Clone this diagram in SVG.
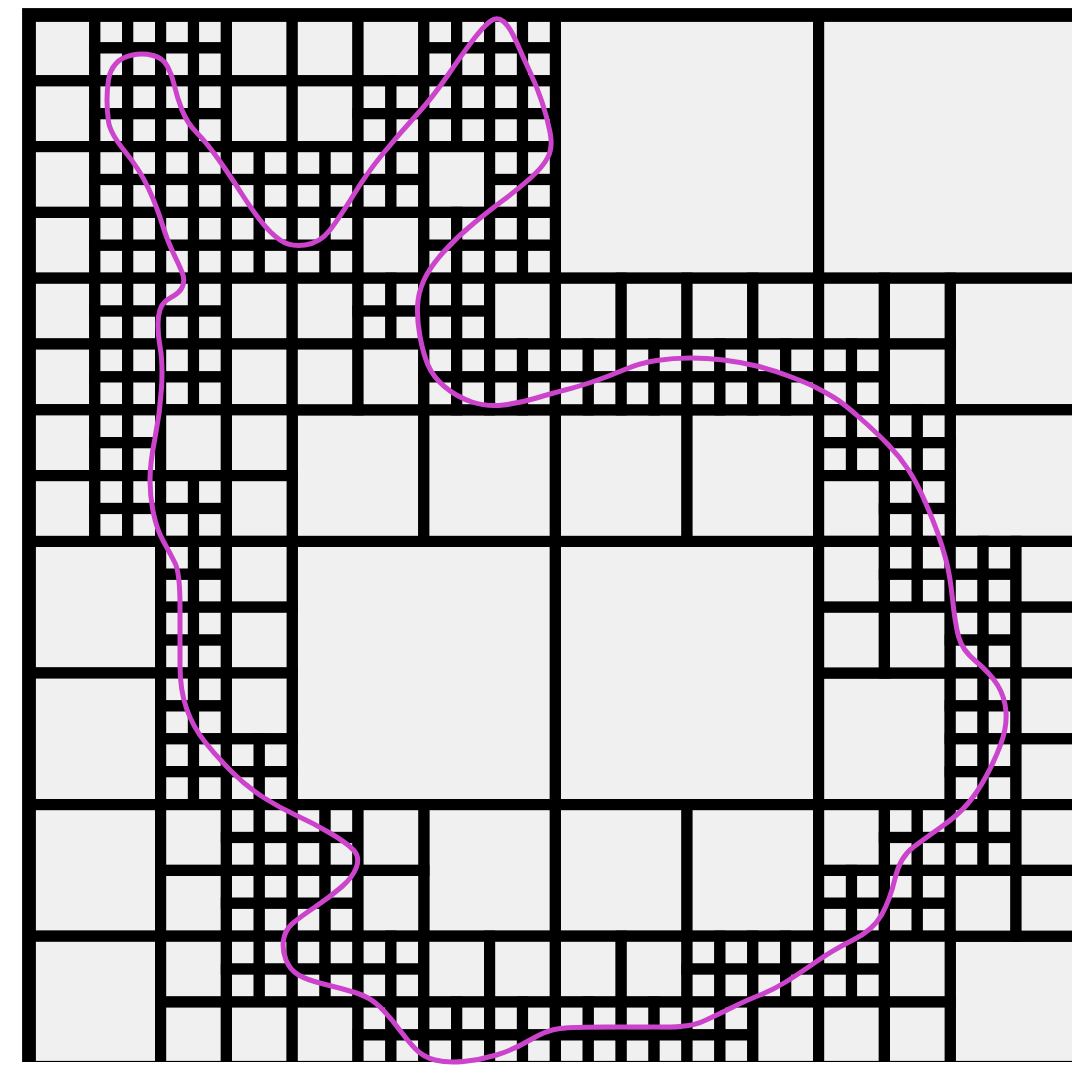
<svg xmlns="http://www.w3.org/2000/svg" width="1072" height="1066" viewBox="0 0 1072 1066">
<style>
.curve{fill:none;stroke:#cc44cc;stroke-width:5;stroke-linejoin:round;stroke-linecap:round}
</style>
<defs>
<g id="s">
<rect x="0" y="0" width="1" height="1"/><rect x="1" y="0" width="1" height="1"/>
<rect x="0" y="1" width="1" height="1"/><rect x="1" y="1" width="1" height="1"/>
</g>
<rect id="l" width="2" height="2"/>
<clipPath id="crop"><rect x="0" y="0" width="1072" height="1062"/></clipPath>
</defs>
<rect width="1072" height="1066" fill="#ffffff"/>
<g clip-path="url(#crop)">
<g id="quadtree" transform="translate(29,15) scale(32.9)" fill="#f0f0f0" stroke="#000" stroke-width="0.34">
<g id="level2">
<rect x="16" y="0" width="8" height="8"/><rect x="24" y="0" width="8" height="8"/>
<rect x="8" y="16" width="8" height="8"/><rect x="16" y="16" width="8" height="8"/>
</g>
<g id="level3">
<rect x="28" y="8" width="4" height="4"/>
<rect x="8" y="12" width="4" height="4"/><rect x="12" y="12" width="4" height="4"/><rect x="16" y="12" width="4" height="4"/><rect x="20" y="12" width="4" height="4"/><rect x="28" y="12" width="4" height="4"/>
<rect x="0" y="16" width="4" height="4"/>
<rect x="0" y="20" width="4" height="4"/><rect x="24" y="20" width="4" height="4"/>
<rect x="0" y="24" width="4" height="4"/><rect x="12" y="24" width="4" height="4"/><rect x="16" y="24" width="4" height="4"/><rect x="20" y="24" width="4" height="4"/>
<rect x="0" y="28" width="4" height="4"/><rect x="28" y="28" width="4" height="4"/>
</g>
<g id="row0">
<use href="#l" x="0" y="0"/><use href="#s" x="2" y="0"/><use href="#l" x="0" y="2"/><use href="#s" x="2" y="2"/>
<use href="#s" x="4" y="0"/><use href="#l" x="6" y="0"/><use href="#s" x="4" y="2"/><use href="#l" x="6" y="2"/>
<use href="#l" x="8" y="0"/><use href="#l" x="10" y="0"/><use href="#l" x="8" y="2"/><use href="#s" x="10" y="2"/>
<use href="#s" x="12" y="0"/><use href="#s" x="14" y="0"/><use href="#s" x="12" y="2"/><use href="#s" x="14" y="2"/>
</g>
<g id="row1">
<use href="#l" x="0" y="4"/><use href="#s" x="2" y="4"/><use href="#l" x="0" y="6"/><use href="#s" x="2" y="6"/>
<use href="#s" x="4" y="4"/><use href="#s" x="6" y="4"/><use href="#s" x="4" y="6"/><use href="#s" x="6" y="6"/>
<use href="#s" x="8" y="4"/><use href="#s" x="10" y="4"/><use href="#s" x="8" y="6"/><use href="#l" x="10" y="6"/>
<use href="#l" x="12" y="4"/><use href="#s" x="14" y="4"/><use href="#s" x="12" y="6"/><use href="#s" x="14" y="6"/>
</g>
<g id="row2">
<use href="#l" x="0" y="8"/><use href="#s" x="2" y="8"/><use href="#l" x="0" y="10"/><use href="#s" x="2" y="10"/>
<use href="#s" x="4" y="8"/><use href="#l" x="6" y="8"/><use href="#s" x="4" y="10"/><use href="#l" x="6" y="10"/>
<use href="#l" x="8" y="8"/><use href="#s" x="10" y="8"/><use href="#l" x="8" y="10"/><use href="#l" x="10" y="10"/>
<use href="#s" x="12" y="8"/><use href="#l" x="14" y="8"/><use href="#s" x="12" y="10"/><use href="#s" x="14" y="10"/>
<use href="#l" x="16" y="8"/><use href="#l" x="18" y="8"/><use href="#s" x="16" y="10"/><use href="#s" x="18" y="10"/>
<use href="#l" x="20" y="8"/><use href="#l" x="22" y="8"/><use href="#s" x="20" y="10"/><use href="#s" x="22" y="10"/>
<use href="#l" x="24" y="8"/><use href="#l" x="26" y="8"/><use href="#s" x="24" y="10"/><use href="#l" x="26" y="10"/>
</g>
<g id="row3">
<use href="#l" x="0" y="12"/><use href="#s" x="2" y="12"/><use href="#l" x="0" y="14"/><use href="#s" x="2" y="14"/>
<use href="#l" x="4" y="12"/><use href="#l" x="6" y="12"/><use href="#s" x="4" y="14"/><use href="#l" x="6" y="14"/>
<use href="#s" x="24" y="12"/><use href="#s" x="26" y="12"/><use href="#l" x="24" y="14"/><use href="#s" x="26" y="14"/>
</g>
<g id="row4">
<use href="#s" x="4" y="16"/><use href="#l" x="6" y="16"/><use href="#s" x="4" y="18"/><use href="#l" x="6" y="18"/>
<use href="#l" x="24" y="16"/><use href="#s" x="26" y="16"/><use href="#l" x="24" y="18"/><use href="#l" x="26" y="18"/>
<use href="#s" x="28" y="16"/><use href="#l" x="30" y="16"/><use href="#s" x="28" y="18"/><use href="#l" x="30" y="18"/>
</g>
<g id="row5">
<use href="#s" x="4" y="20"/><use href="#l" x="6" y="20"/><use href="#s" x="4" y="22"/><use href="#s" x="6" y="22"/>
<use href="#s" x="28" y="20"/><use href="#l" x="30" y="20"/><use href="#s" x="28" y="22"/><use href="#l" x="30" y="22"/>
</g>
<g id="row6">
<use href="#l" x="4" y="24"/><use href="#s" x="6" y="24"/><use href="#l" x="4" y="26"/><use href="#s" x="6" y="26"/>
<use href="#s" x="8" y="24"/><use href="#l" x="10" y="24"/><use href="#s" x="8" y="26"/><use href="#l" x="10" y="26"/>
<use href="#l" x="24" y="24"/><use href="#s" x="26" y="24"/><use href="#s" x="24" y="26"/><use href="#s" x="26" y="26"/>
<use href="#s" x="28" y="24"/><use href="#l" x="30" y="24"/><use href="#l" x="28" y="26"/><use href="#l" x="30" y="26"/>
</g>
<g id="row7">
<use href="#l" x="4" y="28"/><use href="#s" x="6" y="28"/><use href="#l" x="4" y="30"/><use href="#l" x="6" y="30"/>
<use href="#s" x="8" y="28"/><use href="#s" x="10" y="28"/><use href="#l" x="8" y="30"/><use href="#s" x="10" y="30"/>
<use href="#l" x="12" y="28"/><use href="#l" x="14" y="28"/><use href="#s" x="12" y="30"/><use href="#s" x="14" y="30"/>
<use href="#l" x="16" y="28"/><use href="#l" x="18" y="28"/><use href="#s" x="16" y="30"/><use href="#s" x="18" y="30"/>
<use href="#s" x="20" y="28"/><use href="#s" x="22" y="28"/><use href="#s" x="20" y="30"/><use href="#l" x="22" y="30"/>
<use href="#s" x="24" y="28"/><use href="#l" x="26" y="28"/><use href="#l" x="24" y="30"/><use href="#l" x="26" y="30"/>
</g>
<rect id="border" x="0" y="0" width="32" height="32" fill="none" stroke-width="0.42"/>
</g>
</g>
<path id="boundary" class="curve" d="M490,21.5 Q497,16 503.5,21.5 Q510,27 516.5,42 Q523,57 530,72 Q537,87 542,102 Q547,117 550,132 Q553,147 548,157 Q543,167 530,178.5 Q517,190 503.5,200 Q490,210 473.5,223.5 Q457,237 443.5,252 Q430,267 424,280 Q418,293 417.5,306.5 Q417,320 420,336.5 Q423,353 428,365 Q433,377 445,387 Q457,397 472,402 Q487,407 503.5,405 Q520,403 536.5,398 Q553,393 565,390 Q577,387 592,382 Q607,377 623.5,370 Q640,363 656.5,360.5 Q673,358 690,358 Q707,358 723.5,360 Q740,362 756.5,366 Q773,370 790,376.5 Q807,383 816,387.5 Q825,392 834,397.5 Q843,403 860,418 Q877,433 888.5,445 Q900,457 908.5,470 Q917,483 925,501.5 Q933,520 937.5,532.5 Q942,545 946,560 Q950,575 952.5,599 Q955,623 958.5,636.5 Q962,650 976,661.5 Q990,673 997.5,685 Q1005,697 1006,712 Q1007,727 1001,743.5 Q995,760 986,776.5 Q977,793 967.5,804 Q958,815 942.5,826 Q927,837 913.5,847 Q900,857 895,878.5 Q890,900 881.5,915 Q873,930 853,940 Q833,950 816.5,961.5 Q800,973 786.5,981.5 Q773,990 760,995 Q747,1000 730,1008.5 Q713,1017 701.5,1022 Q690,1027 665,1027 Q640,1027 606.5,1027 Q573,1027 560,1028.5 Q547,1030 530,1040 Q513,1050 496.5,1055 Q480,1060 463.5,1061.5 Q447,1063 435,1060 Q423,1057 415,1048.5 Q407,1040 398.5,1028.5 Q390,1017 380,1007 Q370,997 355,992.5 Q340,988 323.5,984 Q307,980 298.5,975 Q290,970 286,960 Q282,950 283.5,940 Q285,930 292.5,923.5 Q300,917 315,907 Q330,897 341.5,887 Q353,877 356.5,867 Q360,857 353.5,850 Q347,843 330,833 Q313,823 296.5,815.5 Q280,808 263.5,797.5 Q247,787 232,772 Q217,757 205,742 Q193,727 186.5,708.5 Q180,690 180,665 Q180,640 180,606.5 Q180,573 175,563 Q170,553 163.5,541.5 Q157,530 153.5,513.5 Q150,497 150,480 Q150,463 155,438 Q160,413 161.5,388 Q163,363 160,346.5 Q157,330 158.5,316.5 Q160,303 170,298 Q180,293 182.5,286.5 Q185,280 182.5,273.5 Q180,267 173.5,253.5 Q167,240 162,223.5 Q157,207 148.5,188.5 Q140,170 125,151.5 Q110,133 108.5,121.5 Q107,110 107,100 Q107,90 108.5,80 Q110,70 116,63.5 Q122,57 132.5,55 Q143,53 153,55.5 Q163,58 167.5,66.5 Q172,75 174.5,86 Q177,97 182,110 Q187,123 197,133 Q207,143 220,161.5 Q233,180 241.5,193.5 Q250,207 260,220 Q270,233 280,240 Q290,247 305,245 Q320,243 330,230 Q340,217 353.5,195 Q367,173 383.5,153 Q400,133 416.5,115 Q433,97 448,75 Q463,53 473,40 Q483,27 490,21.5 Z"/>
</svg>
